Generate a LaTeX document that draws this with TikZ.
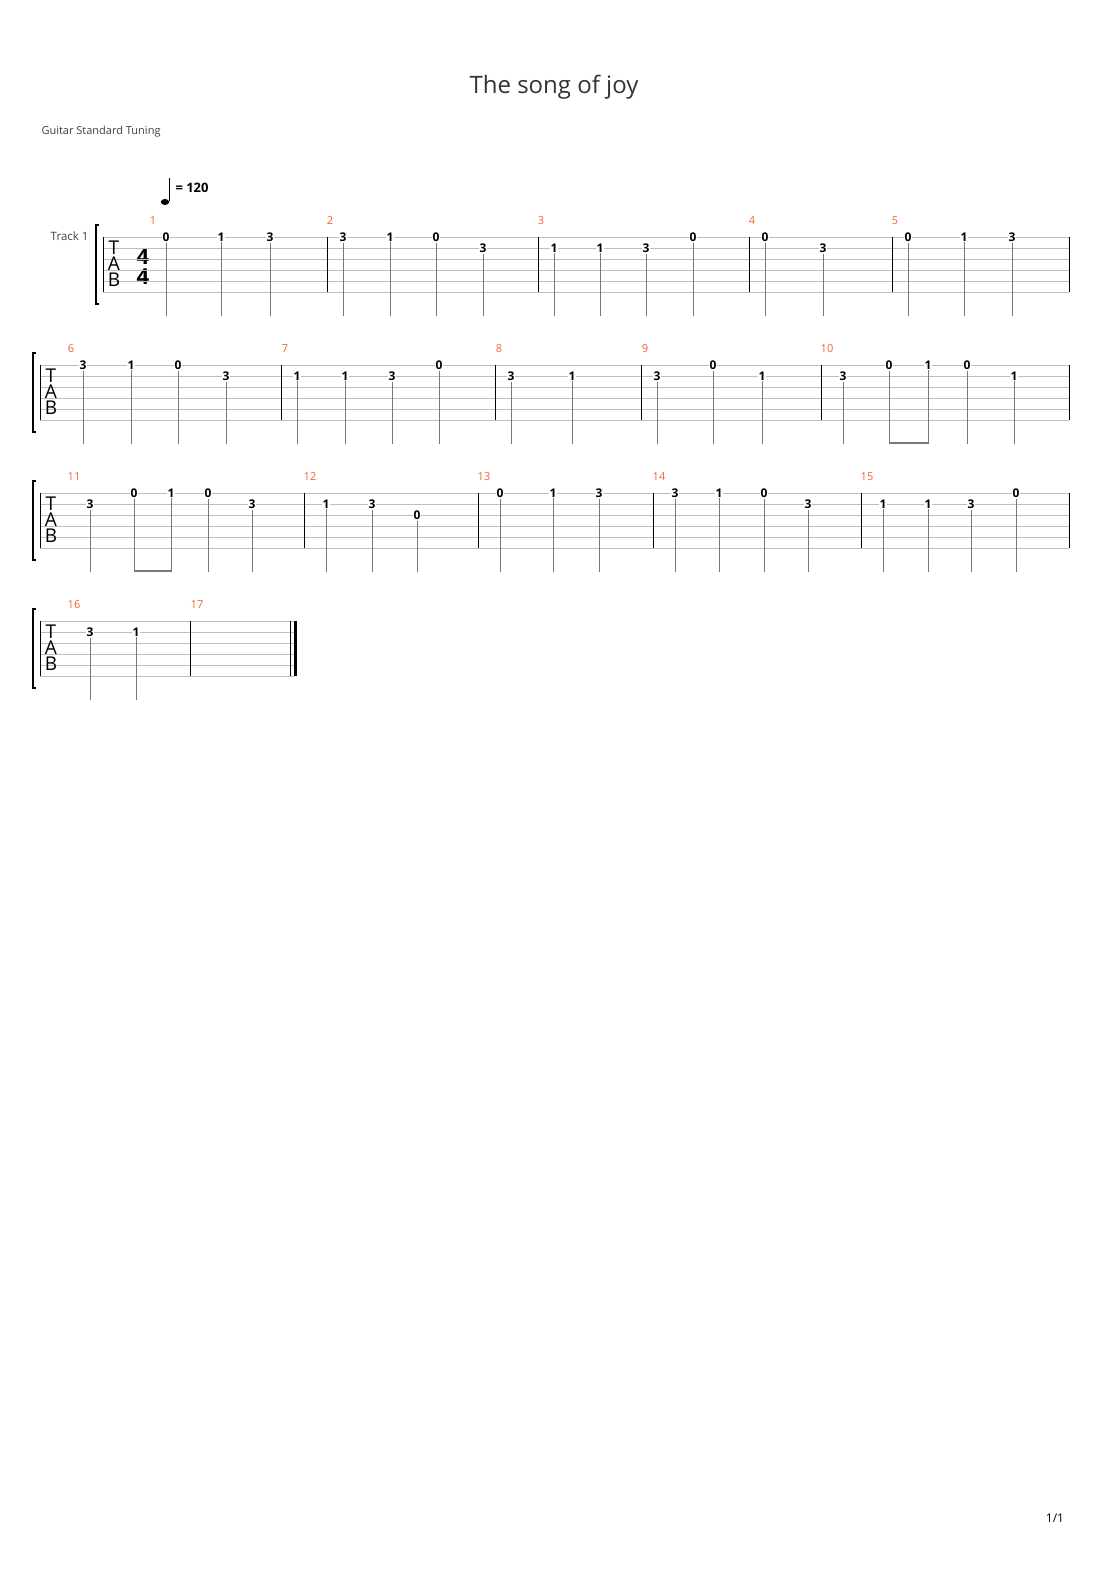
\documentclass[tikz,border=0pt]{standalone}
\usepackage{fontspec}
\setmainfont{Open Sans}
\usepackage{tikz}
\definecolor{barnum}{RGB}{240,100,50}
\definecolor{staff}{RGB}{190,190,190}
\definecolor{stem}{RGB}{120,120,120}
\tikzset{
  fret/.style={fill=white,inner sep=1pt,font=\fontsize{12}{12}\selectfont\bfseries},
  mnum/.style={text=barnum,font=\fontsize{11}{11}\selectfont},
  tabletter/.style={font=\fontsize{19}{19}\selectfont,inner sep=0pt}
}
% #1 top line y, #2 start x, #3 end x, #4 bar lines, #5 notes x/string/fret, #6 measure numbers x/label
\newcommand{\tabsystem}[6]{
  \foreach \s in {0,...,5} \draw[staff] (#2,#1+11*\s) -- (#3,#1+11*\s);
  \draw[thin] (#2,#1) -- (#2,#1+55);
  \foreach \b in {#4} \draw[semithick] (\b,#1) -- (\b,#1+55);
  \foreach \x/\st/\f in {#5} {
    \node[fret] (n#1-\x) at (\x,#1+11*\st-11) {\f};
    \draw[stem] (n#1-\x.south) -- (\x,#1+79);
  }
  \foreach \x/\m in {#6} \node[mnum] at (\x,#1-16) {\m};
  \node[tabletter] at (#2+11,#1+11) {T};
  \node[tabletter] at (#2+11,#1+27) {A};
  \node[tabletter] at (#2+11,#1+43) {B};
  \draw[line width=1.6pt] (#2-4,#1-12) -- (#2-7,#1-12) -- (#2-7,#1+67) -- (#2-4,#1+67);
}

\begin{document}
\begin{tikzpicture}[x=1pt,y=-1pt]
\useasboundingbox (0,0) rectangle (1110,1570);
\node[font=\fontsize{24}{24}\selectfont,text=black!80] (title) at (554,87) {The song of joy};
\node[anchor=west,font=\fontsize{11}{11}\selectfont,text=black!75] (tuning) at (38,132) {Guitar Standard Tuning};
\node[anchor=east,font=\fontsize{11.5}{11.5}\selectfont,text=black!75] (track) at (92,236) {Track 1};
% tempo
\fill (165,202) ellipse (4.2 and 3);
\draw (169,201) -- (169,178);
\node[anchor=west,font=\fontsize{13}{13}\selectfont\bfseries] (tempo) at (172,188) {= 120};
% time signature
\node[font=\fontsize{22}{22}\selectfont\bfseries,inner sep=0pt] (ts1) at (143,257) {4};
\node[font=\fontsize{22}{22}\selectfont\bfseries,inner sep=0pt] (ts2) at (143,277) {4};

\tabsystem{237}{103}{1069}{327,538,749,892,1069}
  {166/1/0,221/1/1,270/1/3,343/1/3,390/1/1,436/1/0,483/2/3,554/2/1,600/2/1,646/2/3,693/1/0,765/1/0,823/2/3,908/1/0,964/1/1,1012/1/3}
  {153/1,330/2,541/3,752/4,895/5}
\tabsystem{365}{40}{1069}{281,495,641,821,1069}
  {83/1/3,131/1/1,178/1/0,226/2/3,297/2/1,345/2/1,392/2/3,439/1/0,511/2/3,572/2/1,657/2/3,713/1/0,762/2/1,843/2/3,889/1/0,928/1/1,967/1/0,1014/2/1}
  {71/6,285/7,499/8,645/9,827/10}
\draw[stem,line width=2.5pt] (889,443) -- (928,443);
\tabsystem{493}{40}{1069}{304,478,653,861,1069}
  {90/2/3,134/1/0,171/1/1,208/1/0,252/2/3,326/2/1,372/2/3,417/3/0,500/1/0,553/1/1,599/1/3,675/1/3,719/1/1,764/1/0,808/2/3,883/2/1,928/2/1,971/2/3,1016/1/0}
  {74/11,310/12,484/13,659/14,867/15}
\draw[stem,line width=2.5pt] (134,571) -- (171,571);
\tabsystem{621}{40}{295}{190,290}
  {90/2/3,136/2/1}
  {74/16,197/17}
\draw[line width=3pt] (295,621) -- (295,676);

\node[font=\fontsize{12}{12}\selectfont] (page) at (1055,1518) {1/1};
\end{tikzpicture}
\end{document}
